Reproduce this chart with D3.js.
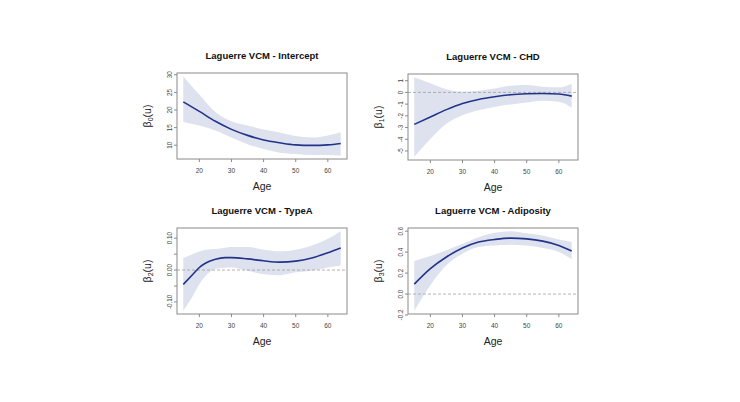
<!DOCTYPE html>
<html><head><meta charset="utf-8">
<script src="https://cdn.jsdelivr.net/npm/d3@7"></script>
<style>body{margin:0;background:#fff}svg{display:block}text{font-family:"Liberation Sans",Arial,sans-serif}</style>
</head><body><svg id="c" width="740" height="402"></svg>
<script>
// Panel titles and y labels
const titles = ["Laguerre VCM - Intercept","Laguerre VCM - CHD","Laguerre VCM - TypeA","Laguerre VCM - Adiposity"];
const subs = ["0","1","2","3"];
const xTicks = [20,30,40,50,60];

// Intercept
const ages1 = [15,20,25,30,35,40,45,50,55,60,64];
const fit1  = [22.3,19.6,16.8,14.5,12.8,11.5,10.7,10.1,9.95,10.1,10.5];
const up1   = [29.6,24.3,19.4,16.8,15.6,14.5,13.6,12.6,12.2,12.8,13.7];
const lo1   = [16.6,15.6,14.2,12.2,10.3,8.9,7.9,7.5,7.2,7.2,7.0];
const yt1   = [10,15,20,25,30];
const yl1   = ["10","15","20","25","30"];

// CHD
const ages2 = [15,20,25,30,35,40,45,50,55,60,64];
const fit2  = [-2.73,-2.1,-1.47,-0.95,-0.6,-0.37,-0.2,-0.12,-0.09,-0.14,-0.32];
const up2   = [1.3,0.78,0.26,0.06,0.14,0.34,0.57,0.63,0.49,0.43,0.75];
const lo2   = [-5.5,-3.97,-2.67,-1.95,-1.52,-1.24,-1.03,-0.86,-0.72,-0.8,-1.3];
const yt2   = [-5,-4,-3,-2,-1,0,1];
const yl2   = ["-5","-4","-3","-2","-1","0","1"];

// TypeA
const ages3 = [15,18,20,22,25,28,30,35,40,45,50,55,60,64];
const fit3  = [-0.045,-0.013,0.008,0.022,0.034,0.039,0.039,0.035,0.029,0.025,0.028,0.038,0.054,0.069];
const up3   = [0.037,0.05,0.058,0.064,0.066,0.07,0.072,0.072,0.064,0.059,0.064,0.077,0.098,0.122];
const lo3   = [-0.128,-0.081,-0.044,-0.018,0.003,0.007,0.008,-0.002,-0.013,-0.016,-0.007,-0.002,0.008,0.014];
const yt3   = [-0.10,-0.05,0,0.05,0.10];
const yl3   = ["-0.10","","0.00","","0.10"];

// Adiposity
const ages4 = [15,20,25,30,35,40,45,50,55,60,64];
const fit4  = [0.095,0.243,0.354,0.439,0.496,0.521,0.534,0.527,0.505,0.464,0.41];
const up4   = [0.316,0.363,0.417,0.48,0.543,0.584,0.6,0.581,0.559,0.521,0.496];
const lo4   = [-0.16,0.085,0.275,0.385,0.449,0.464,0.47,0.464,0.439,0.401,0.332];
const yt4   = [-0.2,0,0.2,0.4,0.6];
const yl4   = ["-0.2","0.0","0.2","0.4","0.6"];

const panels = [
  {ages:ages1,fit:fit1,up:up1,lo:lo1,yt:yt1,yl:yl1,zero:false},
  {ages:ages2,fit:fit2,up:up2,lo:lo2,yt:yt2,yl:yl2,zero:true},
  {ages:ages3,fit:fit3,up:up3,lo:lo3,yt:yt3,yl:yl3,zero:true},
  {ages:ages4,fit:fit4,up:up4,lo:lo4,yt:yt4,yl:yl4,zero:true}
];
const boxes = [[177,73],[408,74],[177,228],[408,228]];
const W = 170, H = 86;

const svg = d3.select("#c");
panels.forEach((p,i)=>{
  const [bx,by] = boxes[i];
  const g = svg.append("g").attr("transform",`translate(${bx},${by})`);
  const xr = d3.extent(p.ages), xp = (xr[1]-xr[0])*0.04;
  const x = d3.scaleLinear().domain([xr[0]-xp,xr[1]+xp]).range([0,W]);
  const ymin = d3.min(p.lo), ymax = d3.max(p.up), yp=(ymax-ymin)*0.04;
  const y = d3.scaleLinear().domain([ymin-yp,ymax+yp]).range([H,0]);
  const data = p.ages.map((a,k)=>({a,f:p.fit[k],u:p.up[k],l:p.lo[k]}));
  g.append("path").datum(data)
    .attr("d",d3.area().x(d=>x(d.a)).y0(d=>y(d.l)).y1(d=>y(d.u)).curve(d3.curveMonotoneX))
    .attr("fill","#dde2ee");
  if(p.zero){
    g.append("line").attr("x1",0).attr("x2",W).attr("y1",y(0)).attr("y2",y(0))
      .attr("stroke","#a0a0a0").attr("stroke-width",0.8).attr("stroke-dasharray","3,2");
  }
  g.append("path").datum(data)
    .attr("d",d3.line().x(d=>x(d.a)).y(d=>y(d.f)).curve(d3.curveMonotoneX))
    .attr("fill","none").attr("stroke","#22338a").attr("stroke-width",1.6);
  g.append("rect").attr("x",0).attr("y",0).attr("width",W).attr("height",H)
    .attr("fill","none").attr("stroke","#8a8a8a").attr("stroke-width",1);
  // x axis
  const xa = g.append("g").attr("transform",`translate(0,${H})`);
  xTicks.forEach(t=>{
    xa.append("line").attr("x1",x(t)).attr("x2",x(t)).attr("y1",0).attr("y2",3).attr("stroke","#8a8a8a");
    xa.append("text").attr("x",x(t)).attr("y",14).attr("text-anchor","middle")
      .attr("font-size",6.5).attr("fill","#444").text(t);
  });
  // y axis
  p.yt.forEach((t,k)=>{
    g.append("line").attr("x1",-3).attr("x2",0).attr("y1",y(t)).attr("y2",y(t)).attr("stroke","#8a8a8a");
    if(p.yl[k]) g.append("text").attr("transform",`translate(-5,${y(t)}) rotate(-90)`)
      .attr("text-anchor","middle").attr("font-size",6.3).attr("fill","#444").text(p.yl[k]);
  });
  g.append("text").attr("x",W/2).attr("y",-14).attr("text-anchor","middle")
    .attr("font-size",9.5).attr("font-weight","bold").attr("fill","#111").text(titles[i]);
  g.append("text").attr("x",W/2).attr("y",H+31).attr("text-anchor","middle")
    .attr("font-size",10.5).attr("fill","#222").text("Age");
  const yl = g.append("text").attr("transform",`translate(-26,${H/2}) rotate(-90)`)
    .attr("text-anchor","middle").attr("font-size",10.5).attr("fill","#222");
  yl.append("tspan").text("β");
  yl.append("tspan").attr("font-size",7).attr("dy",2).text(subs[i]);
  yl.append("tspan").attr("dy",-2).text("(u)");
});
</script></body></html>
